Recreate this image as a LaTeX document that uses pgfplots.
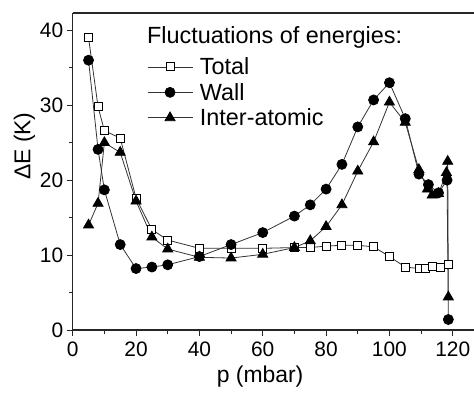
\documentclass[border=0pt]{standalone}
\usepackage{fontspec}
\setmainfont{Liberation Sans}
\usepackage{pgfplots}
\pgfplotsset{compat=1.18}

\pgfplotstableread{
p dE
5 39.0
8 29.8
10 26.6
15 25.6
20 17.6
25 13.4
30 12.0
40 10.9
50 10.9
60 10.9
70 11.0
75 11.0
80 11.2
85 11.3
90 11.3
95 11.1
100 9.8
105 8.4
109.5 8.2
111.5 8.2
113.5 8.5
116 8.4
118.6 8.7
}\total

\pgfplotstableread{
p dE
5 36.0
8 24.1
10 18.7
15 11.4
20 8.2
25 8.4
30 8.7
40 9.8
50 11.4
60 13.0
70 15.2
75 16.7
80 18.8
85 22.1
90 27.1
95 30.7
100 33.0
105 28.2
109.3 20.8
112.3 19.4
115.5 18.3
118.2 20.0
118.6 1.4
}\wall

\pgfplotstableread{
p dE
5 14.0
8 16.9
10 25.0
15 23.7
20 17.2
25 12.4
30 10.8
40 9.7
50 9.6
60 10.1
70 11.0
75 11.9
80 13.8
85 16.7
90 21.2
95 25.1
100 30.4
105 27.7
109.3 21.4
112 18.8
113.5 18.0
115.5 18.2
118 21.0
118.4 22.5
118.6 4.4
}\inter

\begin{document}
\begin{tikzpicture}
\begin{axis}[
  at={(0,0)}, anchor=south west,
  scale only axis, width=401.3bp, height=317bp,
  xmin=0, xmax=126.7, ymin=0, ymax=42.3,
  axis x line*=box, axis y line*=left,
  axis line style={-, black!85, line width=1.3bp},
  xtick={0,20,...,120}, ytick={0,10,...,40},
  minor x tick num=1, minor y tick num=1,
  xtick pos=left, ytick pos=left,
  tick align=outside,
  major tick length=6bp, minor tick length=3.5bp,
  tick style={black!85, line width=1bp},
  /pgf/number format/assume math mode=true,
  tick label style={font=\fontsize{21}{25}\selectfont},
  xticklabel style={yshift=-2bp},
  xlabel={p (mbar)}, ylabel={ΔE (K)},
  label style={font=\fontsize{23}{27}\selectfont},
  xlabel style={at={(rel axis cs:0.467,0)}, anchor=center, yshift=-47bp},
  ylabel style={at={(rel axis cs:-0.12,0.58)}, anchor=center},
  legend style={at={(rel axis cs:0.185,0.866)}, anchor=north west,
    draw=none, fill=none, inner sep=0pt,
    font=\fontsize{23.5}{28}\selectfont, row sep=3bp,
    /tikz/every odd column/.append style={column sep=5bp}},
  legend cell align=left,
  legend image code/.code={\draw[mark repeat=2,mark phase=2,#1]
    plot coordinates {(0bp,0bp) (22.5bp,0bp) (45bp,0bp)};},
  every axis plot/.append style={black!80, line width=0.8bp},
]
\addplot[mark=square*, mark size=4bp,
  mark options={fill=white, draw=black, line width=0.9bp}] table[x=p, y=dE] {\total};
\addlegendentry{Total}
\addplot[mark=*, mark size=5bp, mark options={fill=black, draw=black}] table[x=p, y=dE] {\wall};
\addlegendentry{Wall}
\addplot[mark=triangle*, mark size=5.8bp, mark options={fill=black, draw=black}] table[x=p, y=dE] {\inter};
\addlegendentry{Inter-atomic}
\node[anchor=base west, inner sep=0pt, font=\fontsize{23.5}{28}\selectfont]
  at (rel axis cs:0.185,0.905) {Fluctuations of energies:};
\end{axis}
\pgfresetboundingbox
\path[use as bounding box] (-72.7bp,-63bp) rectangle (401.3bp,330bp);
\end{tikzpicture}
\end{document}
